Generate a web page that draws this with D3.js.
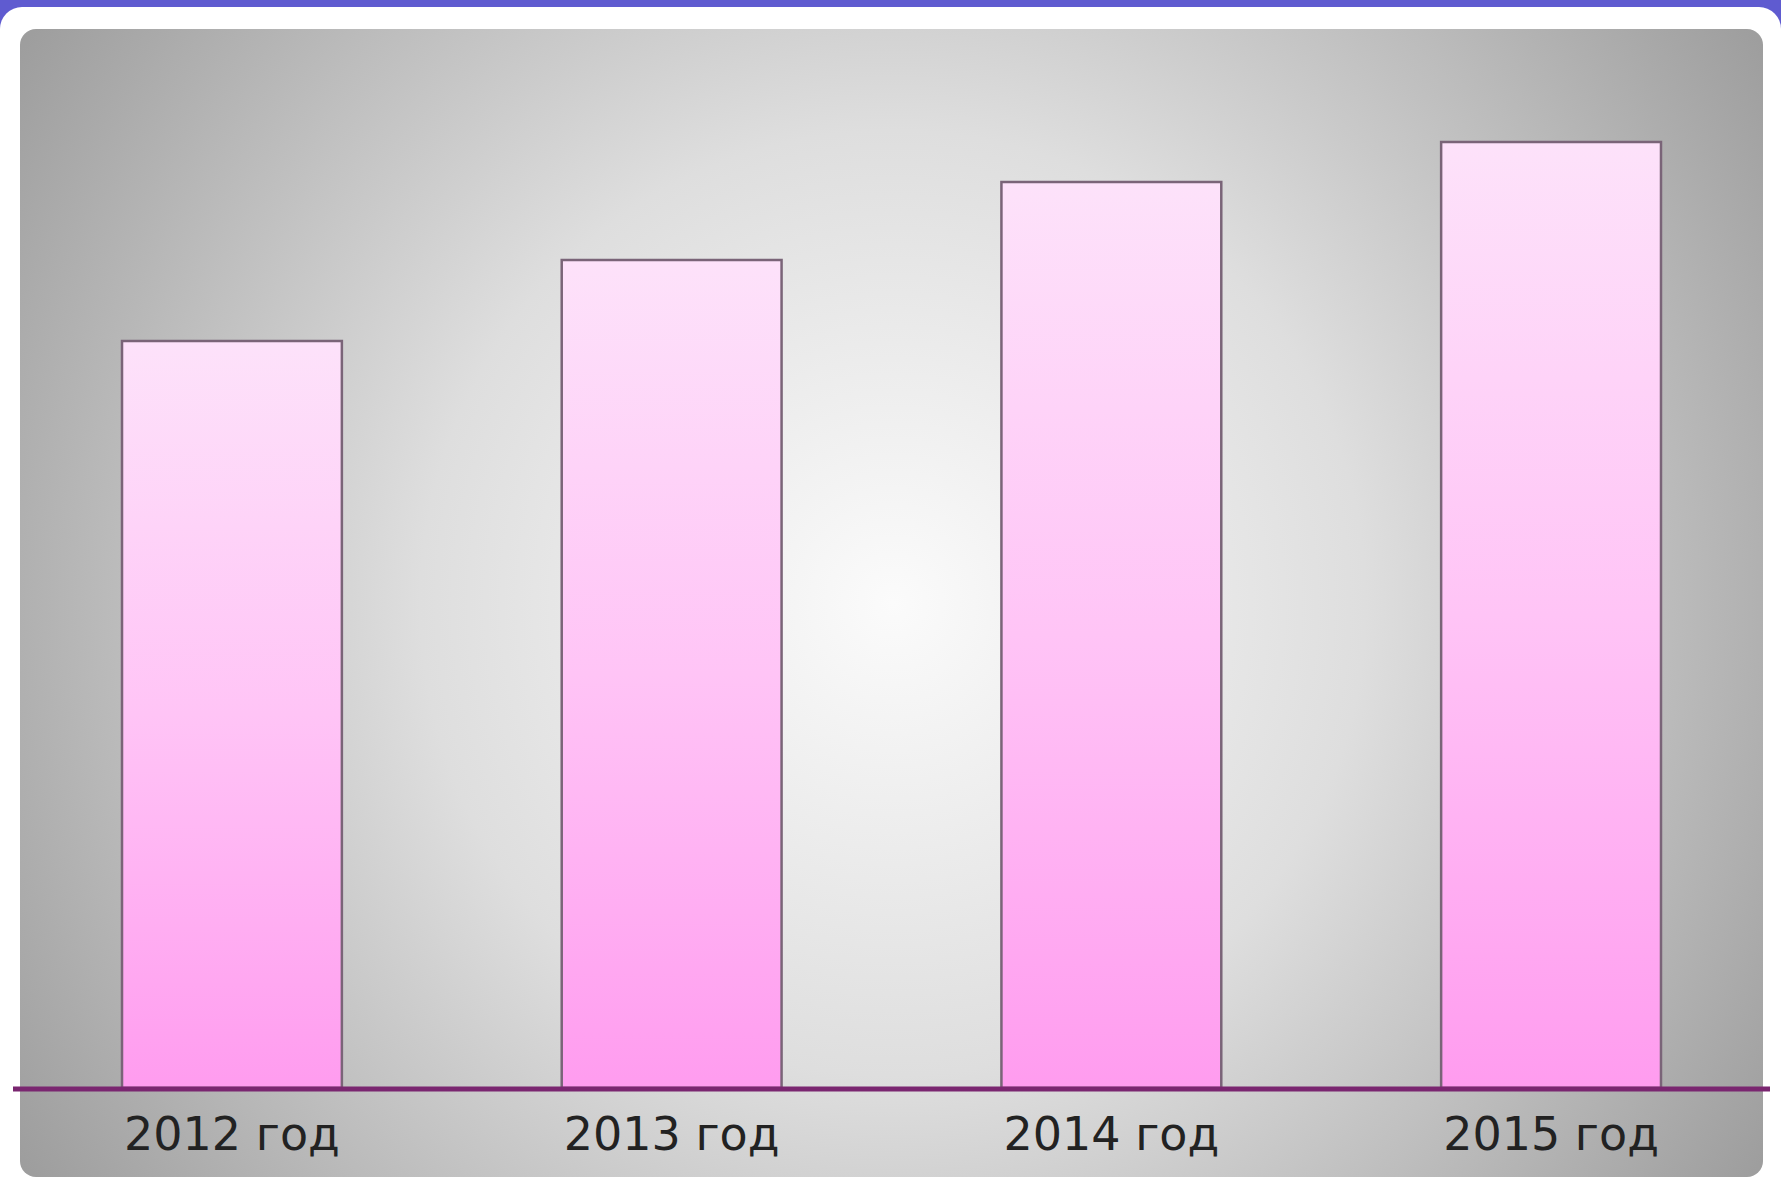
<!DOCTYPE html>
<html>
<head>
<meta charset="utf-8">
<script src="https://d3js.org/d3.v7.min.js"></script>
<style>
  html, body { margin: 0; padding: 0; background: #5f5bd0; overflow: hidden; }
</style>
</head>
<body>
<script>
// данные
const years = ["2012 год", "2013 год", "2014 год", "2015 год"];
const values = [747, 828, 906, 946];

const W = 1781, H = 1178;
const svg = d3.select("body").append("svg")
  .attr("width", W)
  .attr("height", H);

const defs = svg.append("defs");

// фон панели - радиальный градиент
const bg = defs.append("radialGradient")
  .attr("id", "bgGrad")
  .attr("gradientUnits", "userSpaceOnUse")
  .attr("cx", 893).attr("cy", 603).attr("r", 1050);
bg.append("stop").attr("offset", "0%").attr("stop-color", "#fbfbfb");
bg.append("stop").attr("offset", "45%").attr("stop-color", "#dedede");
bg.append("stop").attr("offset", "100%").attr("stop-color", "#9c9c9c");

// заливка столбцов
const barGrad = defs.append("linearGradient")
  .attr("id", "barGrad")
  .attr("x1", 0).attr("y1", 0).attr("x2", 0).attr("y2", 1);
barGrad.append("stop").attr("offset", "0%").attr("stop-color", "#fde2fa");
barGrad.append("stop").attr("offset", "50%").attr("stop-color", "#ffc4f6");
barGrad.append("stop").attr("offset", "100%").attr("stop-color", "#ff9cef");

// белая карточка
svg.append("rect")
  .attr("x", 0).attr("y", 7)
  .attr("width", W).attr("height", H + 30)
  .attr("rx", 22)
  .attr("fill", "#ffffff");

// серая панель
svg.append("rect")
  .attr("x", 20).attr("y", 29)
  .attr("width", 1743).attr("height", 1148)
  .attr("rx", 16)
  .attr("fill", "url(#bgGrad)");

const baseY = 1088;

const x = d3.scaleBand()
  .domain(years)
  .range([20, 1763])
  .paddingInner(0.5)
  .paddingOuter(0.232);

const y = d3.scaleLinear()
  .domain([0, 1000])
  .range([baseY, baseY - 1000]);

// столбцы
svg.append("g").selectAll("rect")
  .data(years)
  .enter().append("rect")
  .attr("x", d => x(d))
  .attr("y", (d, i) => y(values[i]))
  .attr("width", x.bandwidth())
  .attr("height", (d, i) => y(0) - y(values[i]))
  .attr("fill", "url(#barGrad)")
  .attr("stroke", "#7a6478")
  .attr("stroke-width", 2.5);

// линия оси
svg.append("line")
  .attr("x1", 13).attr("x2", 1770)
  .attr("y1", baseY + 1).attr("y2", baseY + 1)
  .attr("stroke", "#7a2670")
  .attr("stroke-width", 5);

// подписи
const xAxis = svg.append("g")
  .attr("transform", `translate(0,${baseY})`)
  .call(d3.axisBottom(x).tickSize(0).tickPadding(0));
xAxis.select(".domain").remove();
xAxis.selectAll("text")
  .attr("y", 62)
  .attr("dy", 0)
  .style("font-family", "'DejaVu Sans', Verdana, sans-serif")
  .style("font-size", "46px")
  .style("fill", "#222");
</script>
</body>
</html>
